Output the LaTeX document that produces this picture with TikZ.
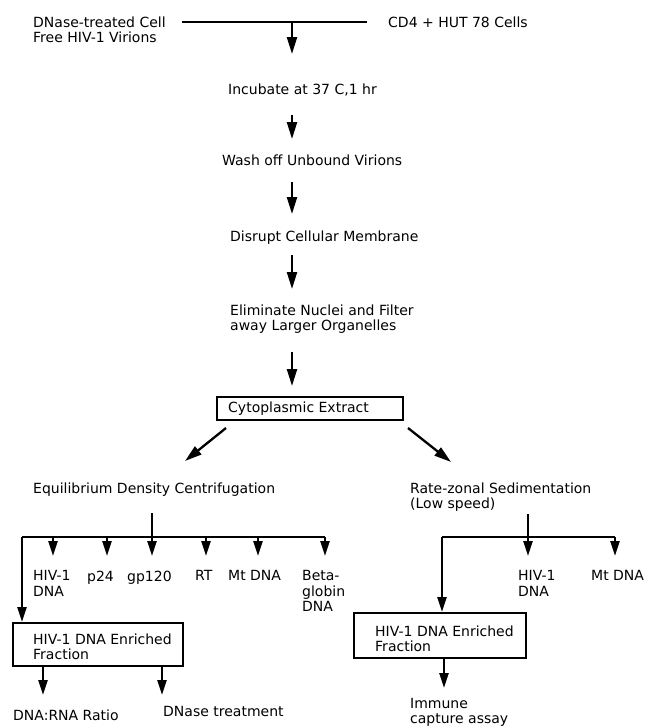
\documentclass[tikz,border=0pt]{standalone}
\usepackage{fontspec}
\setmainfont{DejaVu Sans}
\usetikzlibrary{arrows.meta}
\begin{document}
\begin{tikzpicture}[x=1pt,y=-1pt,
  txt/.style={anchor=north west,inner sep=0pt,align=left,font=\fontsize{14}{15.5}\selectfont},
  con/.style={line width=2.3pt},
  arr/.style={line width=2.3pt,-{Triangle[length=17pt,width=10pt]}},
  sarr/.style={line width=2.3pt,-{Triangle[length=15pt,width=9pt]}},
  bx/.style={draw,line width=2.4pt,anchor=north west,inner sep=0pt}]
\useasboundingbox (0,0) rectangle (647,728);
\fill[white] (0,0) rectangle (647,728);

% top inputs
\node[txt] (src) at (33,16.5) {DNase-treated Cell\\Free HIV-1 Virions};
\node[txt] (cd4) at (388,16.5) {CD4 + HUT 78 Cells};
\coordinate (jl) at (182,22);
\coordinate (jr) at (367,22);
\coordinate (j0) at (292,22);
\coordinate (j1) at (292,54);
\draw[con] (jl) -- (jr);
\draw[arr] (j0) -- (j1);

% main column
\node[txt] (inc) at (228,83.5) {Incubate at 37 C,1 hr};
\coordinate (m1s) at (292,115); \coordinate (m1e) at (292,139);
\draw[arr] (m1s) -- (m1e);
\node[txt] (wash) at (222,154.5) {Wash off Unbound Virions};
\coordinate (m2s) at (292,182); \coordinate (m2e) at (292,214);
\draw[arr] (m2s) -- (m2e);
\node[txt] (disr) at (230,230.5) {Disrupt Cellular Membrane};
\coordinate (m3s) at (292,255); \coordinate (m3e) at (292,289);
\draw[arr] (m3s) -- (m3e);
\node[txt] (elim) at (230,304.5) {Eliminate Nuclei and Filter\\away Larger Organelles};
\coordinate (m4s) at (292,352); \coordinate (m4e) at (292,386);
\draw[arr] (m4s) -- (m4e);

\node[bx,minimum width=186pt,minimum height=23pt] (cyto) at (216,396) {};
\node[txt,anchor=west] (cytot) at ([xshift=12pt]cyto.west) {Cytoplasmic Extract};

% split
\coordinate (dls) at (226,428); \coordinate (dle) at (185,461);
\coordinate (drs) at (408,428); \coordinate (dre) at (451,462);
\draw[arr] (dls) -- (dle);
\draw[arr] (drs) -- (dre);

\node[txt] (equ) at (33,482.5) {Equilibrium Density Centrifugation};
\node[txt] (rate) at (410,482.5) {Rate-zonal Sedimentation\\(Low speed)};

% left tree
\coordinate (ls) at (152,513); \coordinate (lg) at (152,556);
\coordinate (lb0) at (22,537); \coordinate (lb1) at (325,537);
\draw[con] (lb0) -- (lb1);
\draw[sarr] (ls) -- (lg);
\coordinate (lhs) at (53,537); \coordinate (lhe) at (53,556);
\coordinate (lps) at (107,537); \coordinate (lpe) at (107,556);
\coordinate (lrs) at (206,537); \coordinate (lre) at (206,556);
\coordinate (lms) at (258,537); \coordinate (lme) at (258,556);
\coordinate (lbe) at (325,556);
\draw[sarr] (lhs) -- (lhe);
\draw[sarr] (lps) -- (lpe);
\draw[sarr] (lrs) -- (lre);
\draw[sarr] (lms) -- (lme);
\draw[sarr] (lb1) -- (lbe);

\node[txt] (h1) at (33,570.5) {HIV-1\\DNA};
\node[txt] (p24) at (87,570.5) {p24};
\node[txt] (gp) at (127,570.5) {gp120};
\node[txt] (rt) at (195,570.5) {RT};
\node[txt] (mt1) at (228,570.5) {Mt DNA};
\node[txt] (beta) at (302,570.5) {Beta-\\globin\\DNA};

\node[bx,minimum width=170pt,minimum height=43pt] (b1) at (12,622) {};
\node[txt,anchor=west] (b1t) at ([xshift=21pt,yshift=-2pt]b1.west) {HIV-1 DNA Enriched\\Fraction};
\draw[sarr] (lb0) -- (lb0 |- b1.north);
\coordinate (c1) at (43,695); \coordinate (c2) at (162,695);
\draw[sarr] (b1.south -| c1) -- (c1);
\draw[sarr] (b1.south -| c2) -- (c2);
\node[txt] (dr) at (13,709.5) {DNA:RNA Ratio};
\node[txt] (dt) at (163,706.5) {DNase treatment};

% right tree
\coordinate (rs) at (528,514); \coordinate (rg) at (528,556);
\coordinate (rb0) at (442,537); \coordinate (rb1) at (615,537);
\coordinate (rm) at (615,556);
\draw[con] (rb0) -- (rb1);
\draw[sarr] (rs) -- (rg);
\draw[sarr] (rb1) -- (rm);
\node[txt] (h2) at (518,570.5) {HIV-1\\DNA};
\node[txt] (mt2) at (591,570.5) {Mt DNA};

\node[bx,minimum width=172pt,minimum height=45pt] (b2) at (353,612) {};
\node[txt,anchor=west] (b2t) at ([xshift=22pt,yshift=-3pt]b2.west) {HIV-1 DNA Enriched\\Fraction};
\draw[sarr] (rb0) -- (rb0 |- b2.north);
\coordinate (c3) at (444,688);
\draw[sarr] (b2.south -| c3) -- (c3);
\node[txt] (imm) at (410,698) {Immune\\capture assay};
\end{tikzpicture}
\end{document}
